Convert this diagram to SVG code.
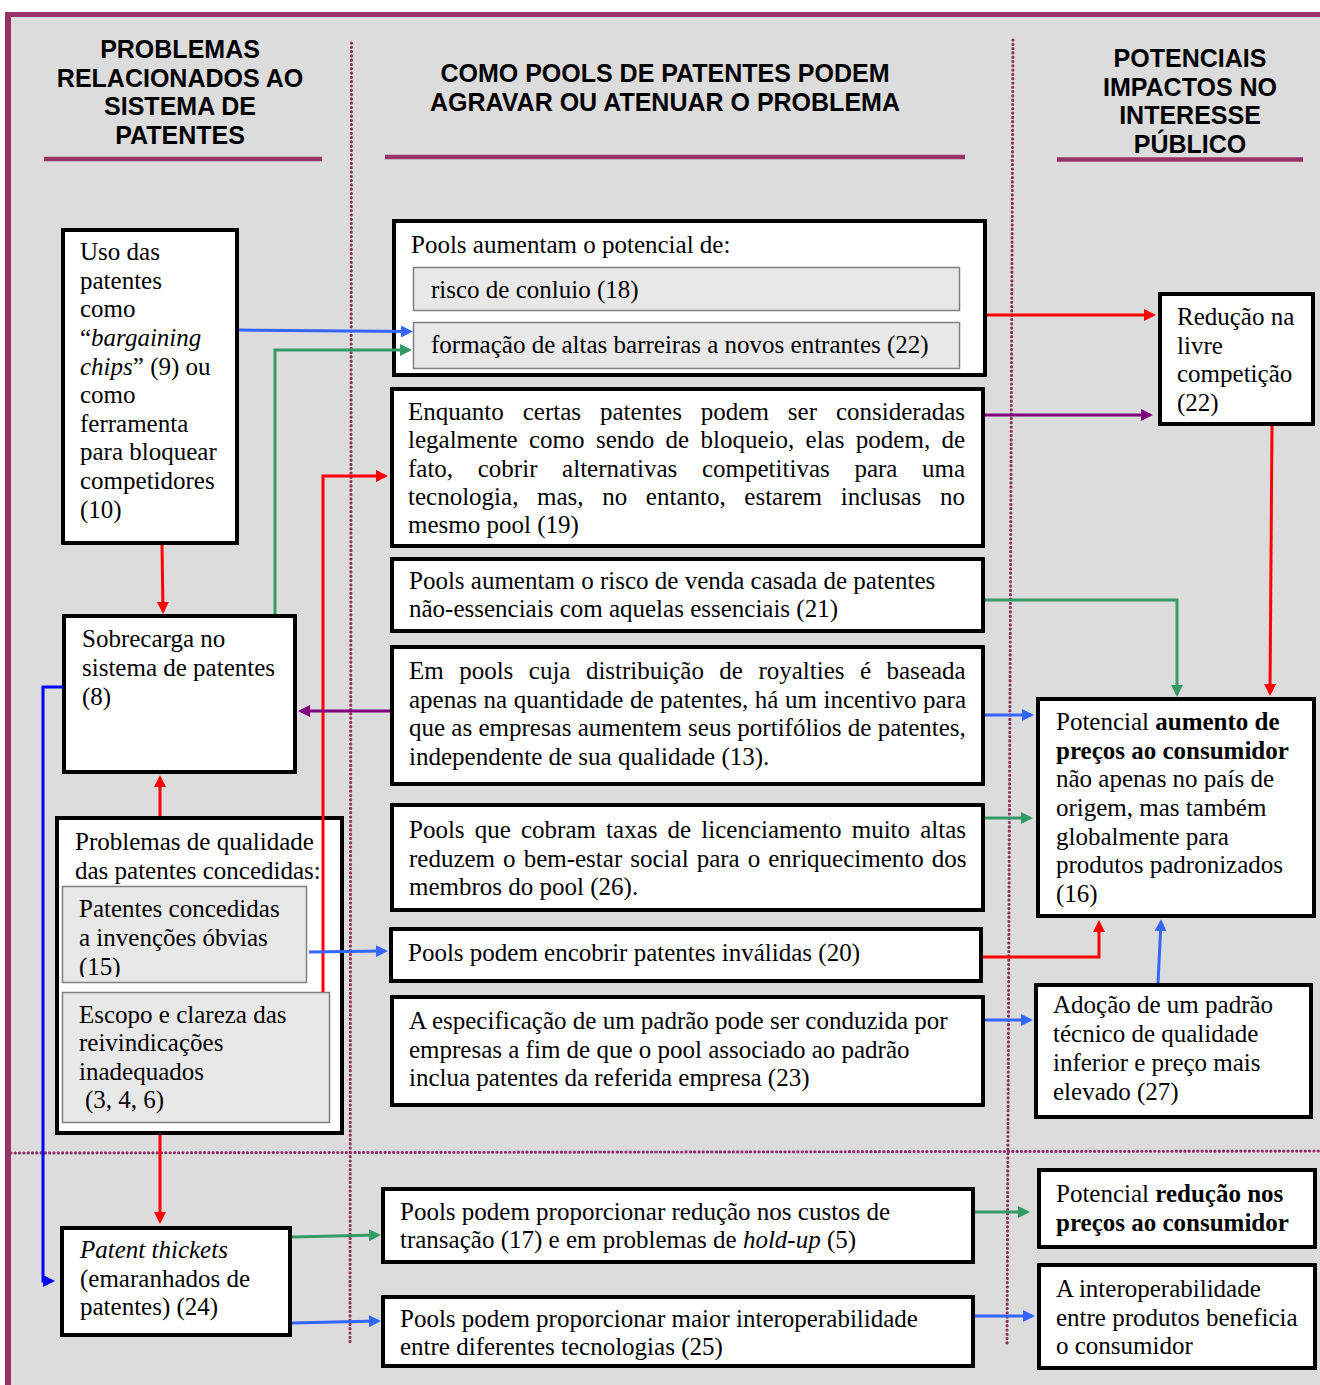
<svg xmlns="http://www.w3.org/2000/svg" width="1320" height="1385" viewBox="0 0 1320 1385">
<style>
.box{fill:#fff;stroke:#000;stroke-width:4}
.sub{fill:#e8e8e8;stroke:#7f7f7f;stroke-width:1.5}
.t{font-family:"Liberation Serif","Times New Roman",serif;font-size:25px;fill:#000}
.h{font-family:"Liberation Sans",Arial,sans-serif;font-weight:bold;font-size:25px;text-anchor:middle;fill:#000}
.ul{stroke:#993366;stroke-width:4.5;fill:none}
.dot{stroke:#8e2f60;stroke-width:3.2;stroke-dasharray:0 4.3;stroke-linecap:round;fill:none}
.c{fill:none;stroke-width:3}
.red{stroke:#ff0000;marker-end:url(#a-red)}
.grn{stroke:#339966;marker-end:url(#a-grn)}
.lbl{stroke:#3366ff;marker-end:url(#a-lbl)}
.dbl{stroke:#0000ff;marker-end:url(#a-dbl)}
.pur{stroke:#800080;marker-end:url(#a-pur)}
.i{font-style:italic}
.b{font-weight:bold}
</style>
<defs>
<marker id="a-red" viewBox="0 0 12 12" refX="9" refY="6" markerWidth="12" markerHeight="12" markerUnits="userSpaceOnUse" orient="auto"><path d="M0,0 L12,6 L0,12 z" fill="#ff0000"/></marker>
<marker id="a-grn" viewBox="0 0 12 12" refX="9" refY="6" markerWidth="12" markerHeight="12" markerUnits="userSpaceOnUse" orient="auto"><path d="M0,0 L12,6 L0,12 z" fill="#339966"/></marker>
<marker id="a-lbl" viewBox="0 0 12 12" refX="9" refY="6" markerWidth="12" markerHeight="12" markerUnits="userSpaceOnUse" orient="auto"><path d="M0,0 L12,6 L0,12 z" fill="#3366ff"/></marker>
<marker id="a-dbl" viewBox="0 0 12 12" refX="9" refY="6" markerWidth="12" markerHeight="12" markerUnits="userSpaceOnUse" orient="auto"><path d="M0,0 L12,6 L0,12 z" fill="#0000ff"/></marker>
<marker id="a-pur" viewBox="0 0 12 12" refX="9" refY="6" markerWidth="12" markerHeight="12" markerUnits="userSpaceOnUse" orient="auto"><path d="M0,0 L12,6 L0,12 z" fill="#800080"/></marker>
<clipPath id="clip15"><rect x="60" y="884" width="250" height="93"/></clipPath>
<clipPath id="clip25"><rect x="380" y="1290" width="600" height="70"/></clipPath>
</defs>

<rect x="0" y="0" width="1320" height="1385" fill="#ffffff"/>
<rect x="8" y="14" width="1312" height="1371" fill="#dcdcdc"/>
<line x1="5" y1="14.5" x2="1320" y2="14.5" stroke="#993366" stroke-width="5"/>
<line x1="8" y1="12" x2="8" y2="1385" stroke="#993366" stroke-width="6"/>

<g id="headers">
<text class="h" x="180" y="58">PROBLEMAS</text>
<text class="h" x="180" y="86.5">RELACIONADOS AO</text>
<text class="h" x="180" y="115">SISTEMA DE</text>
<text class="h" x="180" y="144">PATENTES</text>
<line class="ul" x1="44" y1="159" x2="322" y2="159"/>
<text class="h" x="665" y="82">COMO POOLS DE PATENTES PODEM</text>
<text class="h" x="665" y="111">AGRAVAR OU ATENUAR O PROBLEMA</text>
<line class="ul" x1="385" y1="157" x2="965" y2="157"/>
<text class="h" x="1190" y="67">POTENCIAIS</text>
<text class="h" x="1190" y="95.5">IMPACTOS NO</text>
<text class="h" x="1190" y="124">INTERESSE</text>
<text class="h" x="1190" y="153">PÚBLICO</text>
<line class="ul" x1="1057" y1="159.5" x2="1303" y2="159.5"/>
</g>

<g id="dividers">
<line class="dot" x1="351.5" y1="43" x2="350" y2="1342"/>
<line class="dot" x1="1013" y1="40" x2="1007" y2="1345"/>
<line class="dot" x1="11" y1="1153" x2="1320" y2="1151"/>
</g>

<g id="n-uso">
<rect class="box" x="63" y="230" width="174" height="313"/>
<text class="t" x="80" y="260">Uso das</text>
<text class="t" x="80" y="289">patentes</text>
<text class="t" x="80" y="317">como</text>
<text class="t" x="80" y="346">“<tspan class="i">bargaining</tspan></text>
<text class="t" x="80" y="375"><tspan class="i">chips</tspan>” (9) ou</text>
<text class="t" x="80" y="403">como</text>
<text class="t" x="80" y="432">ferramenta</text>
<text class="t" x="80" y="460">para bloquear</text>
<text class="t" x="80" y="489">competidores</text>
<text class="t" x="80" y="518">(10)</text>
</g>

<g id="n-sobrecarga">
<rect class="box" x="64" y="616" width="231" height="156"/>
<text class="t" x="82" y="647">Sobrecarga no</text>
<text class="t" x="82" y="676">sistema de patentes</text>
<text class="t" x="82" y="705">(8)</text>
</g>

<g id="n-qualidade">
<rect class="box" x="57" y="818" width="285" height="315"/>
<text class="t" x="75" y="850">Problemas de qualidade</text>
<text class="t" x="75" y="879">das patentes concedidas:</text>
<rect class="sub" x="62.5" y="886.5" width="244" height="96"/>
<g clip-path="url(#clip15)">
<text class="t" x="79" y="917">Patentes concedidas</text>
<text class="t" x="79" y="946">a invenções óbvias</text>
<text class="t" x="79" y="975">(15)</text>
</g>
<rect class="sub" x="62.5" y="992.5" width="267" height="130"/>
<text class="t" x="79" y="1023">Escopo e clareza das</text>
<text class="t" x="79" y="1051">reivindicações</text>
<text class="t" x="79" y="1080">inadequados</text>
<text class="t" x="85" y="1108">(3, 4, 6)</text>
</g>

<g id="n-thickets">
<rect class="box" x="62" y="1228" width="228" height="107"/>
<text class="t i" x="80" y="1258">Patent thickets</text>
<text class="t" x="80" y="1287">(emaranhados de</text>
<text class="t" x="80" y="1315">patentes) (24)</text>
</g>

<g id="n-pools-potencial">
<rect class="box" x="394" y="221" width="591" height="154"/>
<text class="t" x="411" y="253">Pools aumentam o potencial de:</text>
<rect class="sub" x="413.5" y="267.5" width="546" height="43"/>
<text class="t" x="431" y="298">risco de conluio (18)</text>
<rect class="sub" x="413.5" y="322.5" width="546" height="46"/>
<text class="t" x="431" y="353">formação de altas barreiras a novos entrantes (22)</text>
</g>

<g id="n-enquanto">
<rect class="box" x="392" y="389" width="591" height="157"/>
<text class="t" x="408" y="420" word-spacing="12.7">Enquanto certas patentes podem ser consideradas</text>
<text class="t" x="408" y="448" word-spacing="5.1">legalmente como sendo de bloqueio, elas podem, de</text>
<text class="t" x="408" y="477" word-spacing="18.4">fato, cobrir alternativas competitivas para uma</text>
<text class="t" x="408" y="505" word-spacing="12.4">tecnologia, mas, no entanto, estarem inclusas no</text>
<text class="t" x="408" y="533">mesmo pool (19)</text>
</g>

<g id="n-venda-casada">
<rect class="box" x="392" y="559" width="591" height="72"/>
<text class="t" x="409" y="589">Pools aumentam o risco de venda casada de patentes</text>
<text class="t" x="409" y="617">não-essenciais com aquelas essenciais (21)</text>
</g>

<g id="n-royalties">
<rect class="box" x="392" y="647" width="591" height="137"/>
<text class="t" x="409" y="679" word-spacing="9.2">Em pools cuja distribuição de royalties é baseada</text>
<text class="t" x="409" y="708" word-spacing="0.3">apenas na quantidade de patentes, há um incentivo para</text>
<text class="t" x="409" y="736">que as empresas aumentem seus portifólios de patentes,</text>
<text class="t" x="409" y="765">independente de sua qualidade (13).</text>
</g>

<g id="n-taxas">
<rect class="box" x="392" y="805" width="591" height="105"/>
<text class="t" x="409" y="838" word-spacing="3.9">Pools que cobram taxas de licenciamento muito altas</text>
<text class="t" x="409" y="867" word-spacing="1.8">reduzem o bem-estar social para o enriquecimento dos</text>
<text class="t" x="409" y="895">membros do pool (26).</text>
</g>

<g id="n-encobrir">
<rect class="box" x="391" y="929" width="590" height="52"/>
<text class="t" x="408" y="961">Pools podem encobrir patentes inválidas (20)</text>
</g>

<g id="n-especificacao">
<rect class="box" x="392" y="997" width="591" height="108"/>
<text class="t" x="409" y="1029">A especificação de um padrão pode ser conduzida por</text>
<text class="t" x="409" y="1058">empresas a fim de que o pool associado ao padrão</text>
<text class="t" x="409" y="1086">inclua patentes da referida empresa (23)</text>
</g>

<g id="n-custos">
<rect class="box" x="383" y="1189" width="590" height="73"/>
<text class="t" x="400" y="1220">Pools podem proporcionar redução nos custos de</text>
<text class="t" x="400" y="1248">transação (17) e em problemas de <tspan class="i">hold-up</tspan> (5)</text>
</g>

<g id="n-interop">
<rect class="box" x="383" y="1297" width="590" height="69"/>
<g clip-path="url(#clip25)">
<text class="t" x="400" y="1327">Pools podem proporcionar maior interoperabilidade</text>
<text class="t" x="400" y="1355">entre diferentes tecnologias (25)</text>
</g>
</g>

<g id="n-reducao-competicao">
<rect class="box" x="1160" y="294" width="153" height="130"/>
<text class="t" x="1177" y="325">Redução na</text>
<text class="t" x="1177" y="354">livre</text>
<text class="t" x="1177" y="382">competição</text>
<text class="t" x="1177" y="411">(22)</text>
</g>

<g id="n-aumento-precos">
<rect class="box" x="1038" y="699" width="276" height="217"/>
<text class="t" x="1056" y="730">Potencial <tspan class="b">aumento de</tspan></text>
<text class="t b" x="1056" y="759">preços ao consumidor</text>
<text class="t" x="1056" y="787">não apenas no país de</text>
<text class="t" x="1056" y="816">origem, mas também</text>
<text class="t" x="1056" y="845">globalmente para</text>
<text class="t" x="1056" y="873">produtos padronizados</text>
<text class="t" x="1056" y="902">(16)</text>
</g>

<g id="n-adocao">
<rect class="box" x="1036" y="985" width="275" height="132"/>
<text class="t" x="1053" y="1013">Adoção de um padrão</text>
<text class="t" x="1053" y="1042">técnico de qualidade</text>
<text class="t" x="1053" y="1071">inferior e preço mais</text>
<text class="t" x="1053" y="1100">elevado (27)</text>
</g>

<g id="n-reducao-precos">
<rect class="box" x="1039" y="1170" width="276" height="77"/>
<text class="t" x="1056" y="1202">Potencial <tspan class="b">redução nos</tspan></text>
<text class="t b" x="1056" y="1231">preços ao consumidor</text>
</g>

<g id="n-interop-consumidor">
<rect class="box" x="1039" y="1265" width="276" height="103"/>
<text class="t" x="1056" y="1297">A interoperabilidade</text>
<text class="t" x="1056" y="1326">entre produtos beneficia</text>
<text class="t" x="1056" y="1354">o consumidor</text>
</g>

<g id="connectors">
<path class="c lbl" d="M239,330 L410,331.5"/>
<path class="c grn" d="M275,614 V350 H409"/>
<path class="c red" d="M162,545 L163,611"/>
<path class="c red" d="M160,816 V778"/>
<path class="c red" d="M323,992 V476 H385"/>
<path class="c pur" d="M390,711 H301"/>
<path class="c dbl" d="M63,687 H43 V1281 H52"/>
<path class="c lbl" d="M309,952 L385,951"/>
<path class="c red" d="M160,1135 V1221"/>
<path class="c grn" d="M292,1237 L378,1235"/>
<path class="c lbl" d="M292,1323 L378,1321"/>
<path class="c red" d="M987,315 H1153"/>
<path class="c pur" d="M985,415 H1150"/>
<path class="c red" d="M1272,426 L1270,693"/>
<path class="c grn" d="M985,600 H1177 V694"/>
<path class="c lbl" d="M985,715 H1031"/>
<path class="c grn" d="M985,818 H1030"/>
<path class="c red" d="M983,957 H1099 V923"/>
<path class="c lbl" d="M1158,983 L1161,922"/>
<path class="c lbl" d="M985,1020 H1030"/>
<path class="c grn" d="M975,1212 H1027"/>
<path class="c lbl" d="M975,1316 H1032"/>
</g>
</svg>
